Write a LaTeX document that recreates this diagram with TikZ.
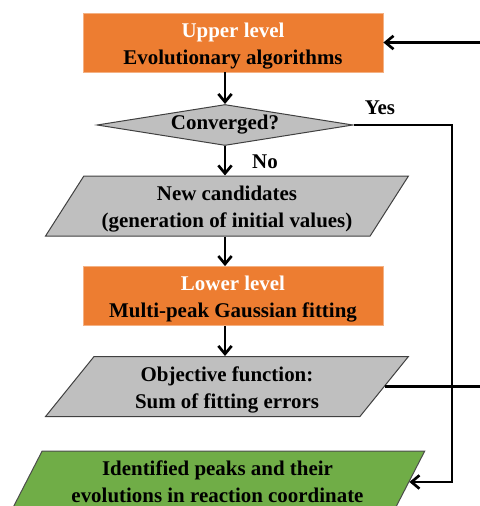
\documentclass[tikz,border=0pt]{standalone}
\usepackage{fontspec}
\setmainfont{Liberation Serif}
\usetikzlibrary{shapes.geometric}
\usetikzlibrary{arrows.meta}
\definecolor{orangeboite}{HTML}{ED7D31}
\definecolor{bordorange}{HTML}{F4B183}
\definecolor{grisboite}{HTML}{BFBFBF}
\definecolor{vertboite}{HTML}{70AD47}
\newcommand{\cale}{\rule{0pt}{16pt}}
\begin{document}
\begin{tikzpicture}[x=0.75pt,y=-0.75pt,font=\fontsize{15.7}{20.25}\selectfont\bfseries]
\tikzstyle{niveau}=[rectangle,draw=bordorange,line width=0.6pt,fill=orangeboite,minimum width=225pt,minimum height=44.25pt,align=center,inner sep=0pt]
\tikzstyle{test}=[diamond,draw=black!75,line width=0.75pt,fill=grisboite,minimum width=192pt,minimum height=30.75pt,aspect=6.3,inner sep=0pt]
\tikzstyle{donnee}=[trapezium,trapezium left angle=57.65,trapezium right angle=122.35,trapezium stretches=true,draw=black!75,line width=0.75pt,fill=grisboite,minimum width=272.25pt,minimum height=45pt,align=center,inner sep=0pt]
\tikzstyle{operation}=[-{Straight Barb[length=6pt,width=10pt,line width=2pt]},line width=2pt]
\useasboundingbox (0,0) rectangle (479,506);
\node[niveau] (upper) at (233,42.5) {\cale\textcolor{white}{Upper level}\\Evolutionary algorithms};
\node[test] (conv) at (225,125) {Converged?};
\node[donnee] (cand) at (227,206) {\cale New candidates\\(generation of initial values)};
\node[niveau] (lower) at (233,296) {\cale\textcolor{white}{Lower level}\\Multi-peak Gaussian fitting};
\node[donnee] (obj) at (227,386.5) {\cale Objective function:\\Sum of fitting errors};
\node[donnee,fill=vertboite,draw=black!70,minimum width=311pt,minimum height=46.5pt] (peaks) at (217.5,482) {Identified peaks and their\\evolutions in reaction coordinate};
\node (oui) at (380,108) {Yes};
\node (non) at (265,162) {No};
\coordinate (coin) at (452,125);
\coordinate (retour) at (488,386.5);
%flèches
\draw[operation] (upper.south-|conv.north)--(conv.north);
\draw[operation] (conv.south)--(conv.south|-cand.north);
\draw[operation] (cand.south-|conv.south)--(lower.north-|conv.south);
\draw[operation] (lower.south-|conv.south)--(obj.north-|conv.south);
\draw[operation] (conv.east)--(coin)|-(peaks.right side);
\draw[operation] (obj.right side)--(retour)|-(upper.east);
\end{tikzpicture}
\end{document}
